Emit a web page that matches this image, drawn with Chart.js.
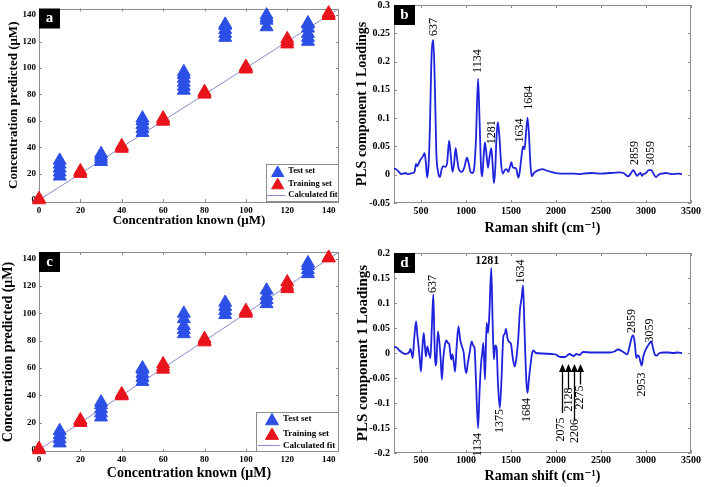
<!DOCTYPE html>
<html><head><meta charset="utf-8">
<script src="https://cdn.jsdelivr.net/npm/chart.js@4.4.0/dist/chart.umd.min.js"></script>
<style>
html,body{margin:0;padding:0;background:#fff;}
#wrap{position:relative;width:704px;height:487px;overflow:hidden;background:#fff;}
canvas{position:absolute;display:block;}
</style></head><body>
<div id="wrap">
<canvas id="ca" width="352" height="243" style="left:0;top:0;width:352px;height:243px"></canvas>
<canvas id="cb" width="352" height="243" style="left:352px;top:0;width:352px;height:243px"></canvas>
<canvas id="cc" width="352" height="244" style="left:0;top:243px;width:352px;height:244px"></canvas>
<canvas id="cd" width="352" height="244" style="left:352px;top:243px;width:352px;height:244px"></canvas>
</div>
<script>
// ---------------- data ----------------
const concTicks = [0, 20, 40, 60, 80, 100, 120, 140];
const testConc = [10, 30, 50, 70, 90, 110, 130];
const trainConc = [0, 20, 40, 60, 80, 100, 120, 140];
const aTestPred = [[18,21,24,27,30],[29,31,33,35],[51,54,57,60,62],[83,86,89,92,95,97],[123,126,129,132,133],[131,136,138,140],[120,123,126,130,133,134]];
const aTrainPred = [[0,1],[20,21,22],[39,40,41],[59.5,61,62],[80,81,82],[99,100,101],[118,120,122],[139.5,140.5,141.5]];
const cTestPred = [[5,8,11,14],[24,27,30,33,35],[50,53,56,59,60],[85,88,91,96,100],[99,102,105,108],[107,110,113,117],[129,132,135,137]];
const cTrainPred = [[0,1],[20,21,22],[39.5,40,41],[59,61,63],[79,80,81.5],[100,101,102],[118,120,123],[140.5,141]];
const fitEnds = [0, 145];

const ramanTicks = [500, 1000, 1500, 2000, 2500, 3000, 3500];
const bLoadTicks = [-0.05, 0, 0.05, 0.1, 0.15, 0.2, 0.25, 0.3];
const dLoadTicks = [-0.2, -0.15, -0.1, -0.05, 0, 0.05, 0.1, 0.15, 0.2];

const bSpectrum = [[200,0.011],[230,0.009],[260,0.004],[280,0.001],[300,0.002],[330,0.003],[350,0.001],[380,0.002],[410,0.003],[430,0.006],[445,0.019],[460,0.015],[480,0.022],[500,0.028],[520,0.032],[540,0.038],[555,0.02],[568,-0.005],[585,0.02],[600,0.09],[615,0.2],[637,0.238],[655,0.15],[670,0.04],[690,0.005],[710,-0.004],[730,0.01],[750,0.015],[770,0.014],[790,0.02],[812,0.06],[830,0.035],[850,0.005],[868,0.02],[885,0.047],[900,0.03],[920,0.01],[950,0.005],[980,0.012],[1010,0.03],[1030,0.02],[1050,0.005],[1070,0.003],[1090,0.01],[1110,0.06],[1134,0.17],[1150,0.1],[1168,0.01],[1180,-0.003],[1195,0.03],[1210,0.057],[1225,0.04],[1245,0.012],[1260,0.03],[1281,0.047],[1295,0.02],[1310,-0.015],[1325,0.01],[1340,0.07],[1354,0.093],[1370,0.07],[1390,0.02],[1410,0.002],[1430,0.008],[1450,0.01],[1470,0.005],[1490,0.015],[1505,0.022],[1520,0.013],[1540,0.012],[1560,0.01],[1580,-0.005],[1595,0.003],[1615,0.03],[1634,0.05],[1650,0.045],[1665,0.07],[1684,0.101],[1700,0.07],[1715,0.02],[1730,-0.003],[1750,0.002],[1780,0.006],[1820,0.009],[1850,0.01],[1900,0.007],[1950,0.005],[2000,0.003],[2100,0.002],[2200,0.002],[2260,0.001],[2300,0.002],[2400,0.003],[2500,0.002],[2600,0.003],[2700,0.004],[2750,0.003],[2800,-0.003],[2830,0.002],[2859,0.008],[2880,0.003],[2900,-0.002],[2920,0.001],[2940,0.003],[2955,-0.002],[2970,0.001],[3000,0.003],[3030,0.008],[3059,0.008],[3080,0.003],[3110,-0.004],[3140,0],[3180,0.002],[3220,0.003],[3260,0.002],[3300,0.001],[3350,0.002],[3400,0.001]];

const dSpectrum = [[200,0.012],[230,0.011],[260,0.005],[290,0.001],[320,-0.002],[350,-0.001],[370,0.002],[382,0.008],[395,0.0],[408,-0.01],[425,0.03],[445,0.063],[460,0.035],[475,0.01],[490,-0.02],[500,-0.037],[512,0.0],[530,0.04],[545,0.01],[555,-0.007],[570,0.013],[590,-0.002],[605,-0.01],[620,0.05],[637,0.117],[650,0.02],[660,-0.025],[670,-0.02],[688,0.043],[705,0.02],[718,-0.01],[732,-0.053],[748,-0.01],[770,0.02],[783,0.025],[800,0.02],[813,0.018],[825,0.0],[835,-0.013],[850,-0.003],[865,-0.02],[879,-0.037],[895,0.01],[916,0.053],[935,0.027],[955,0.013],[975,0.0],[990,-0.03],[1004,-0.04],[1020,-0.02],[1040,0.0],[1063,0.023],[1080,0.015],[1095,0.01],[1110,-0.05],[1134,-0.15],[1150,-0.08],[1165,-0.027],[1180,0.0],[1193,0.02],[1211,-0.053],[1229,0.06],[1245,0.04],[1260,0.08],[1281,0.17],[1296,0.06],[1310,-0.013],[1325,0.015],[1340,0.01],[1355,-0.06],[1375,-0.11],[1395,-0.05],[1415,0.033],[1430,0.038],[1445,0.048],[1460,0.03],[1480,0.022],[1500,0.018],[1520,-0.01],[1542,-0.027],[1560,-0.01],[1580,0.027],[1600,0.087],[1618,0.11],[1634,0.135],[1648,0.06],[1662,-0.02],[1672,-0.06],[1684,-0.08],[1700,-0.05],[1715,-0.027],[1735,0.0],[1752,0.005],[1775,0.0],[1850,-0.001],[1955,-0.002],[2000,-0.003],[2030,-0.007],[2060,-0.008],[2100,-0.008],[2130,-0.004],[2150,-0.002],[2194,-0.006],[2230,-0.002],[2260,-0.004],[2300,0.002],[2400,0.001],[2500,0.001],[2600,0.001],[2650,0.003],[2690,0.007],[2730,0.004],[2764,0.0],[2790,-0.003],[2820,0.015],[2845,0.033],[2859,0.035],[2875,0.02],[2893,-0.01],[2905,-0.005],[2920,-0.006],[2953,-0.025],[2970,-0.007],[3000,0.008],[3030,0.017],[3059,0.023],[3080,0.008],[3100,-0.004],[3120,-0.005],[3150,0.0],[3200,0.001],[3250,0.001],[3300,0.0],[3350,0.001],[3400,0.0]];

const bPeakText = ['637','1134','1281','1634','1684','2859','3059'];
const bPeakAt = [[647,0.245],[1137,0.18],[1284,0.054],[1597,0.057],[1697,0.115],[2875,0.017],[3059,0.017]];
const dPeakText = ['637','1281','1634','1134','1375','1684','2859','3059','2953','2075','2128','2206','2275'];
const dPeakAt = [[629,0.12],[1236,0.179],[1605,0.139],[1137,-0.207],[1373,-0.16],[1678,-0.138],[2838,0.04],[3040,0.021],[2956,-0.087],[2054,-0.177],[2146,-0.117],[2205,-0.18],[2270,-0.113]];
const dArrowX = [2065, 2130, 2195, 2265];
const dArrowTail = [-0.12, -0.073, -0.135, -0.063];
const dArrowTip = -0.022;

// ---------------- styles ----------------
const SERIF = "'Liberation Serif','Times New Roman','DejaVu Serif',serif";
const BLUE = '#2c4fe6';
const RED = '#e8141c';
const FIT = '#8a8ad2';
const LINEBLUE = '#1e22dc';
const AXIS = '#8c8c8c';
Chart.defaults.font.family = SERIF;

function toPoints(xs, groups) {
  const pts = [];
  xs.forEach((x, i) => groups[i].forEach(y => pts.push({x: x, y: y})));
  return pts;
}
function fmt(v) { return String(Math.round(v * 1000) / 1000); }

function tri(ctx, x, y, r, color) {
  ctx.beginPath();
  ctx.moveTo(x, y - r);
  ctx.lineTo(x + r * Math.sin(2 * Math.PI / 3), y - r * Math.cos(2 * Math.PI / 3));
  ctx.lineTo(x + r * Math.sin(4 * Math.PI / 3), y - r * Math.cos(4 * Math.PI / 3));
  ctx.closePath();
  ctx.fillStyle = color; ctx.fill();
  ctx.strokeStyle = color; ctx.lineWidth = 1; ctx.stroke();
}

// box + inward ticks (MATLAB style)
const boxPlugin = {
  id: 'mbox',
  beforeDatasetsDraw(chart) {
    const {ctx, chartArea: ca, scales} = chart;
    ctx.save();
    ctx.strokeStyle = AXIS; ctx.lineWidth = 1;
    ctx.strokeRect(Math.round(ca.left) + 0.5, Math.round(ca.top) + 0.5, Math.round(ca.width) - 1, Math.round(ca.height) - 1);
    const tl = 3;
    ctx.beginPath();
    scales.x.ticks.forEach(t => {
      const px = Math.round(scales.x.getPixelForValue(t.value)) + 0.5;
      ctx.moveTo(px, ca.bottom); ctx.lineTo(px, ca.bottom - tl);
      ctx.moveTo(px, ca.top); ctx.lineTo(px, ca.top + tl);
    });
    scales.y.ticks.forEach(t => {
      const py = Math.round(scales.y.getPixelForValue(t.value)) + 0.5;
      ctx.moveTo(ca.left, py); ctx.lineTo(ca.left + tl, py);
      ctx.moveTo(ca.right, py); ctx.lineTo(ca.right - tl, py);
    });
    ctx.stroke();
    ctx.restore();
  }
};

const panelPlugin = {
  id: 'panel',
  afterDraw(chart, args, o) {
    if (!o || !o.text) return;
    const {ctx, chartArea: ca} = chart;
    ctx.save();
    ctx.fillStyle = '#000';
    ctx.fillRect(ca.left, ca.top, 21, 20);
    ctx.fillStyle = '#fff';
    ctx.font = 'bold 15px ' + SERIF;
    ctx.textAlign = 'center'; ctx.textBaseline = 'middle';
    ctx.fillText(o.text, ca.left + 10.5, ca.top + 10);
    ctx.restore();
  }
};

const triLegend = {
  id: 'trilegend',
  afterDatasetsDraw(chart, args, o) {
    if (!o || !o.w) return;
    const {ctx, chartArea: ca} = chart;
    const x0 = ca.right - o.w, y0 = ca.bottom - o.h;
    ctx.save();
    ctx.fillStyle = '#fff'; ctx.fillRect(x0, y0, o.w, o.h);
    ctx.strokeStyle = AXIS; ctx.lineWidth = 1;
    ctx.strokeRect(Math.round(x0) + 0.5, Math.round(y0) + 0.5, Math.round(o.w) - 1, Math.round(o.h) - 1);
    ctx.font = 'bold ' + o.size + 'px ' + SERIF;
    ctx.textBaseline = 'middle'; ctx.textAlign = 'left';
    chart.data.datasets.forEach((ds, i) => {
      const y = y0 + o.rows[i];
      if (ds.type === 'line') {
        ctx.strokeStyle = ds.borderColor; ctx.lineWidth = 1;
        ctx.beginPath(); ctx.moveTo(x0 + o.lineX[0], Math.round(y) + 0.5); ctx.lineTo(x0 + o.lineX[1], Math.round(y) + 0.5); ctx.stroke();
      } else {
        tri(ctx, x0 + o.symX, y + 2, o.r, ds.backgroundColor);
      }
      ctx.fillStyle = '#000';
      ctx.fillText(ds.label, x0 + o.textX, y);
    });
    ctx.restore();
  }
};

const peakPlugin = {
  id: 'peaks',
  afterDraw(chart, args, o) {
    if (!o || !o.text) return;
    const {ctx, scales} = chart;
    ctx.save();
    ctx.fillStyle = '#000';
    o.text.forEach((t, i) => {
      const px = scales.x.getPixelForValue(o.at[i][0]);
      const py = scales.y.getPixelForValue(o.at[i][1]);
      const horiz = o.horizontal && o.horizontal.includes(i);
      ctx.font = (horiz ? 'bold ' : '') + o.size + 'px ' + SERIF;
      if (horiz) {
        ctx.textAlign = 'center'; ctx.textBaseline = 'alphabetic';
        ctx.fillText(t, px, py);
      } else {
        ctx.save();
        ctx.translate(px, py);
        ctx.rotate(-Math.PI / 2);
        ctx.textAlign = 'left'; ctx.textBaseline = 'middle';
        ctx.fillText(t, 0, 0);
        ctx.restore();
      }
    });
    if (o.arrows) {
      ctx.strokeStyle = '#000'; ctx.lineWidth = 1.3;
      o.arrows.x.forEach((xv, i) => {
        const px = Math.round(scales.x.getPixelForValue(xv)) + 0.5;
        const pTip = scales.y.getPixelForValue(o.arrows.tip);
        const pTail = scales.y.getPixelForValue(o.arrows.tail[i]);
        ctx.beginPath(); ctx.moveTo(px, pTail); ctx.lineTo(px, pTip + 4); ctx.stroke();
        ctx.beginPath(); ctx.moveTo(px, pTip); ctx.lineTo(px - 3.5, pTip + 8); ctx.lineTo(px + 3.5, pTip + 8); ctx.closePath();
        ctx.fillStyle = '#000'; ctx.fill();
      });
    }
    ctx.restore();
  }
};

function fixedAxis(size, isX) {
  return function (s) {
    if (isX) s.height = size; else s.width = size;
    s.paddingLeft = 0; s.paddingRight = 0; s.paddingTop = 0; s.paddingBottom = 0;
  };
}

function concChart(id, testPred, trainPred, o) {
  return new Chart(document.getElementById(id), {
    type: 'scatter',
    data: {
      datasets: [
        {label: 'Test set', data: toPoints(testConc, testPred), pointStyle: 'triangle', pointRadius: 7.5,
         backgroundColor: BLUE, borderColor: BLUE, borderWidth: 1, order: 2, clip: false},
        {label: 'Training set', data: toPoints(trainConc, trainPred), pointStyle: 'triangle', pointRadius: 7.5,
         backgroundColor: RED, borderColor: RED, borderWidth: 1, order: 1, clip: false},
        {label: 'Calculated fit', type: 'line', data: fitEnds.map(v => ({x: v, y: v})), borderColor: FIT,
         borderWidth: 1, pointRadius: 0, order: 3, fill: false}
      ]
    },
    options: {
      responsive: false, animation: false, devicePixelRatio: 1,
      layout: {padding: {left: 0, top: o.top, right: o.right, bottom: 0}},
      plugins: {
        legend: {display: false}, tooltip: {enabled: false},
        panel: {text: o.letter},
        trilegend: o.legend
      },
      scales: {
        x: {
          type: 'linear', min: 0, max: 145, bounds: 'data',
          afterBuildTicks: s => { s.ticks = concTicks.map(v => ({value: v})); },
          afterFit: fixedAxis(o.xh, true),
          grid: {display: false, drawTicks: false}, border: {display: false},
          ticks: {color: '#000', font: {family: SERIF, weight: 'bold', size: o.tick}, padding: o.xtp, maxRotation: 0, autoSkip: false, callback: v => String(v)},
          title: {display: true, text: 'Concentration known (μM)', color: '#000',
                  font: {family: SERIF, weight: 'bold', size: o.title}, padding: {top: 0, bottom: o.xTitlePad}}
        },
        y: {
          type: 'linear', min: -1.5, max: 145, bounds: 'data',
          afterBuildTicks: s => { s.ticks = concTicks.map(v => ({value: v})); },
          afterFit: fixedAxis(o.yw, false),
          grid: {display: false, drawTicks: false}, border: {display: false},
          ticks: {color: '#000', font: {family: SERIF, weight: 'bold', size: o.tick}, padding: 3, autoSkip: false, callback: v => String(v)},
          title: {display: true, text: 'Concentration predicted (μM)', color: '#000',
                  font: {family: SERIF, weight: 'bold', size: o.title}, padding: {top: o.yTitlePad, bottom: 0}}
        }
      }
    },
    plugins: [boxPlugin, panelPlugin, triLegend]
  });
}

function specChart(id, spectrum, yTicks, o) {
  return new Chart(document.getElementById(id), {
    type: 'scatter',
    data: {
      datasets: [{
        label: 'PLS component 1 Loadings', data: spectrum.map(p => ({x: p[0], y: p[1]})),
        showLine: true, pointRadius: 0, borderColor: LINEBLUE, borderWidth: 1.8,
        cubicInterpolationMode: 'monotone', fill: false
      }]
    },
    options: {
      responsive: false, animation: false, devicePixelRatio: 1,
      layout: {padding: {left: 0, top: o.top, right: o.right, bottom: 0}},
      plugins: {
        legend: {display: false}, tooltip: {enabled: false},
        panel: {text: o.letter},
        peaks: o.peaks
      },
      scales: {
        x: {
          type: 'linear', min: 200, max: 3500, bounds: 'data',
          afterBuildTicks: s => { s.ticks = ramanTicks.map(v => ({value: v})); },
          afterFit: fixedAxis(o.xh, true),
          grid: {display: false, drawTicks: false}, border: {display: false},
          ticks: {color: '#000', font: {family: SERIF, weight: 'bold', size: o.tick}, padding: o.xtp, maxRotation: 0, autoSkip: false, callback: v => String(v)},
          title: {display: true, text: 'Raman shift (cm⁻¹)', color: '#000',
                  font: {family: SERIF, weight: 'bold', size: o.xtitle}, padding: {top: 0, bottom: o.xTitlePad}}
        },
        y: {
          type: 'linear', min: yTicks[0], max: yTicks[yTicks.length - 1], bounds: 'data',
          afterBuildTicks: s => { s.ticks = yTicks.map(v => ({value: v})); },
          afterFit: fixedAxis(o.yw, false),
          grid: {display: false, drawTicks: false}, border: {display: false},
          ticks: {color: '#000', font: {family: SERIF, weight: 'bold', size: o.tick}, padding: 4, autoSkip: false, callback: v => fmt(v)},
          title: {display: true, text: 'PLS component 1 Loadings', color: '#000',
                  font: {family: SERIF, weight: 'bold', size: o.ytitle}, padding: {top: o.yTitlePad, bottom: 0}}
        }
      }
    },
    plugins: [boxPlugin, panelPlugin, peakPlugin]
  });
}

concChart('ca', aTestPred, aTrainPred, {
  letter: 'a', top: 3, right: 13, xh: 41, yw: 39, tick: 9, title: 13, xtp: 3, xTitlePad: 14.5, yTitlePad: 6,
  legend: {w: 73.3, h: 38, size: 8.5, rows: [7, 19.3, 31], symX: 12, textX: 22.6, lineX: [1, 20], r: 7}
});
concChart('cc', cTestPred, cTrainPred, {
  letter: 'c', top: 9, right: 13, xh: 35, yw: 39, tick: 9, title: 14, xtp: 2, xTitlePad: 5.6, yTitlePad: 0,
  legend: {w: 82.6, h: 39.7, size: 9, rows: [6.7, 21.3, 33], symX: 15.6, textX: 26.6, lineX: [1.6, 23.3], r: 7.5}
});
specChart('cb', bSpectrum, bLoadTicks, {
  letter: 'b', top: 5, right: 13, xh: 40, yw: 42, tick: 10, xtitle: 14, ytitle: 14, xtp: 2, xTitlePad: 6.6, yTitlePad: 2.3,
  peaks: {text: bPeakText, at: bPeakAt, size: 12}
});
specChart('cd', dSpectrum, dLoadTicks, {
  letter: 'd', top: 10, right: 13, xh: 34, yw: 42, tick: 10, xtitle: 14, ytitle: 15, xtp: 1, xTitlePad: 2.6, yTitlePad: 2,
  peaks: {text: dPeakText, at: dPeakAt, size: 12, horizontal: [1],
          arrows: {x: dArrowX, tail: dArrowTail, tip: dArrowTip}}
});
</script>
</body></html>
